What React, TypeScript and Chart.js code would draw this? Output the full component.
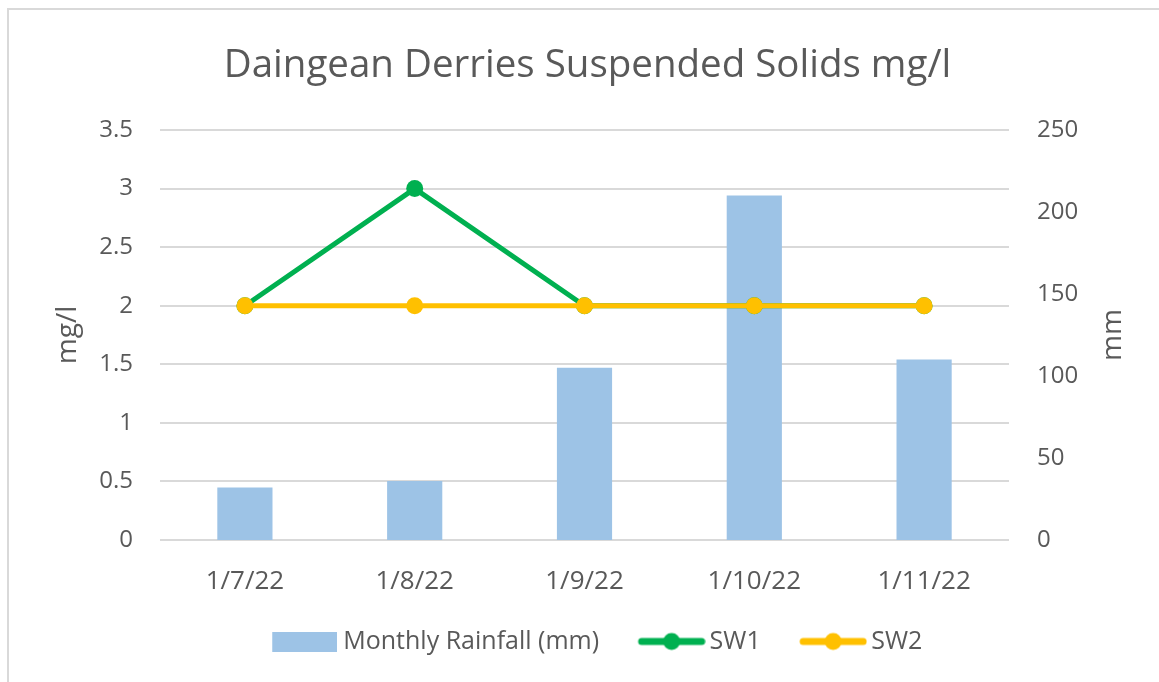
import React, { useEffect, useRef } from "react";
import { Chart, registerables } from "chart.js";

Chart.register(...registerables);

const categories = ["1/7/22", "1/8/22", "1/9/22", "1/10/22", "1/11/22"];
const rainfall = [32, 36, 105, 210, 110];
const sw1 = [2, 3, 2, 2, 2];
const sw2 = [2, 2, 2, 2, 2];
const leftTicks = { min: 0, max: 3.5, step: 0.5 };
const rightTicks = { min: 0, max: 250, step: 50 };

const FONT = "'Open Sans', 'Noto Sans', sans-serif";
const TEXT = "#595959";
const BAR = "#9DC3E6";
const GREEN = "#00B050";
const YELLOW = "#FFC000";
const GRID = "#D9D9D9";

const BOX_W = 78;
const LEG_FONT = 25;

function makeBarIcon() {
  const gap = 6;
  const w = BOX_W + LEG_FONT - 2 * gap;
  const c = document.createElement("canvas");
  c.width = w;
  c.height = 20;
  const x = c.getContext("2d")!;
  x.fillStyle = BAR;
  x.fillRect(w - 65, 0, 65, 20);
  return c;
}
function makeLineIcon(color: string) {
  const gap = 4;
  const w = BOX_W + LEG_FONT - 2 * gap;
  const c = document.createElement("canvas");
  c.width = w;
  c.height = 20;
  const x = c.getContext("2d")!;
  const s = w - 68;
  x.strokeStyle = color;
  x.lineWidth = 7;
  x.lineCap = "round";
  x.beginPath();
  x.moveTo(s + 4, 10);
  x.lineTo(s + 64, 10);
  x.stroke();
  x.fillStyle = color;
  x.beginPath();
  x.arc(s + 34, 10, 8.5, 0, Math.PI * 2);
  x.fill();
  return c;
}

const rightTitlePlugin = {
  id: "rightTitle",
  afterDraw(chart: any) {
    const ctx = chart.ctx;
    const area = chart.chartArea;
    ctx.save();
    ctx.translate(1113, (area.top + area.bottom) / 2);
    ctx.rotate(-Math.PI / 2);
    ctx.fillStyle = TEXT;
    ctx.font = `28px ${FONT}`;
    ctx.textAlign = "center";
    ctx.textBaseline = "middle";
    ctx.fillText("mm", 0, 0);
    ctx.restore();
  },
};

export default function App() {
  const ref = useRef<HTMLCanvasElement>(null);
  useEffect(() => {
    const icons = [makeBarIcon(), makeLineIcon(GREEN), makeLineIcon(YELLOW)];
    const chart = new Chart(ref.current!, {
      type: "bar",
      data: {
        labels: categories,
        datasets: [
          {
            type: "bar",
            label: "Monthly Rainfall (mm)",
            data: rainfall,
            backgroundColor: BAR,
            yAxisID: "y1",
            order: 3,
            categoryPercentage: 1,
            barPercentage: 0.325,
          },
          {
            type: "line",
            label: "SW1",
            data: sw1,
            borderColor: GREEN,
            backgroundColor: GREEN,
            pointBackgroundColor: GREEN,
            borderWidth: 5,
            pointRadius: 8.5,
            pointBorderWidth: 0,
            yAxisID: "y",
            order: 2,
          },
          {
            type: "line",
            label: "SW2",
            data: sw2,
            borderColor: YELLOW,
            backgroundColor: YELLOW,
            pointBackgroundColor: YELLOW,
            borderWidth: 5,
            pointRadius: 8.5,
            pointBorderWidth: 0,
            yAxisID: "y",
            order: 1,
          },
        ] as any,
      },
      options: {
        responsive: false,
        animation: false,
        layout: { padding: { left: 16, right: 0, top: 0, bottom: 18 } },
        plugins: {
          title: {
            display: true,
            text: "Daingean Derries Suspended Solids mg/l",
            color: TEXT,
            font: { family: FONT, size: 38.5, weight: "normal" as any },
            padding: { top: 43, bottom: 40.8 },
          },
          legend: {
            position: "bottom",
            labels: {
              usePointStyle: true,
              pointStyleWidth: BOX_W,
              color: TEXT,
              font: { family: FONT, size: LEG_FONT },
              padding: 20,
              generateLabels: (ch: any) =>
                ch.data.datasets.map((ds: any, i: number) => ({
                  text: ds.label,
                  fillStyle: ds.backgroundColor,
                  strokeStyle: ds.backgroundColor,
                  lineWidth: 0,
                  pointStyle: icons[i],
                  datasetIndex: i,
                  hidden: false,
                  fontColor: TEXT,
                })),
            },
          },
          tooltip: { enabled: false },
        },
        scales: {
          x: {
            grid: { display: false },
            border: { display: false },
            ticks: { color: TEXT, font: { family: FONT, size: 26 }, padding: 18 },
            afterFit: (s: any) => {
              s.height = 69;
            },
          },
          y: {
            position: "left",
            min: leftTicks.min,
            max: leftTicks.max,
            ticks: {
              stepSize: leftTicks.step,
              color: TEXT,
              font: { family: FONT, size: 24 },
              padding: 27,
              callback: (v: any) => String(v),
            },
            grid: { color: GRID, lineWidth: 2, drawTicks: false },
            border: { display: false },
            title: {
              display: true,
              text: "mg/l",
              color: TEXT,
              font: { family: FONT, size: 28 },
              padding: { top: 35, bottom: 0 },
            },
            afterFit: (s: any) => {
              s.width = 144;
            },
          },
          y1: {
            position: "right",
            min: rightTicks.min,
            max: rightTicks.max,
            ticks: {
              stepSize: rightTicks.step,
              color: TEXT,
              font: { family: FONT, size: 24 },
              padding: 28,
              callback: (v: any) => String(v),
            },
            grid: { display: false, drawTicks: false },
            border: { display: false },
            afterFit: (s: any) => {
              s.width = 150;
            },
          },
        },
      },
      plugins: [rightTitlePlugin],
    });
    return () => chart.destroy();
  }, []);

  return (
    <div
      style={{
        position: "fixed",
        left: 0,
        top: 0,
        width: 1159,
        height: 682,
        background: "#fff",
        overflow: "hidden",
      }}
    >
      <div
        style={{
          position: "absolute",
          left: 7,
          top: 8,
          width: 1200,
          height: 700,
          borderTop: "2px solid #D9D9D9",
          borderLeft: "2px solid #D9D9D9",
        }}
      />
      <canvas
        ref={ref}
        width={1159}
        height={682}
        style={{ position: "absolute", left: 0, top: 0 }}
      />
    </div>
  );
}
